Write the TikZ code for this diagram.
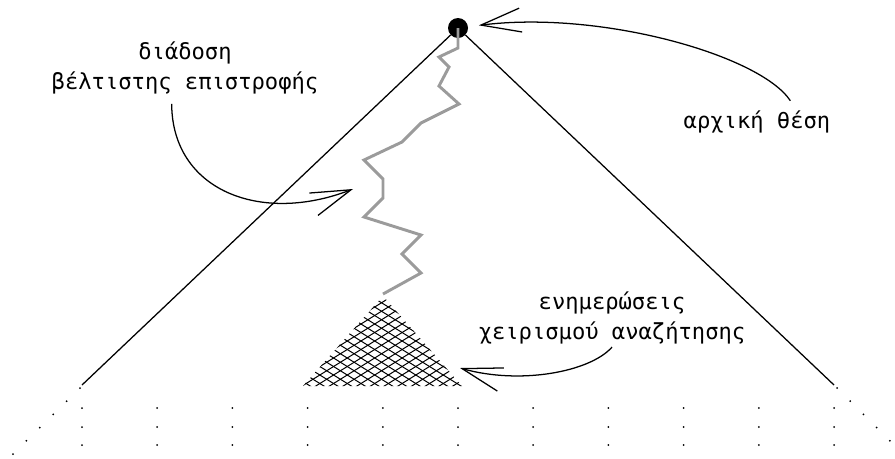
\documentclass[tikz,border=0pt]{standalone}
\usepackage{fontspec}
\newfontfamily\grfont{DejaVu Sans Mono}
\usetikzlibrary{arrows.meta,calc}
\begin{document}
\begin{tikzpicture}[x=0.75pt,y=-0.75pt,
  lbl/.style={font=\grfont\fontsize{16.6}{22.5}\selectfont, align=center, inner sep=0pt},
  treeedge/.style={line width=0.95pt},
  pointer/.style={line width=0.95pt, -{Straight Barb[length=30pt,width=18pt]}},
  zig/.style={line width=2.2pt, draw={rgb,255:red,155;green,155;blue,155}, line join=miter},
  hatch/.style={line width=0.75pt},
  dotmark/.style={fill=black}]
\useasboundingbox (0,0) rectangle (895,458);

% root and tree
\node[circle, fill=black, minimum size=15pt, inner sep=0pt] (root) at (458,28) {};
\coordinate (L) at (82,385);
\coordinate (R) at (834,385);
\draw[treeedge] (root) -- (L);
\draw[treeedge] (root) -- (R);

% dotted continuations
\foreach \i in {0,...,5} \fill[dotmark] (80-13.4*\i,388+13.2*\i) circle (0.75pt);
\foreach \i in {0,...,4} \fill[dotmark] (837+13.2*\i,388+13.2*\i) circle (0.75pt);
\foreach \k in {0,...,10} {
  \foreach \yy in {408,427,445} \fill[dotmark] (82+75.2*\k,\yy) circle (0.75pt);
}

% hatched triangle
\coordinate (apex) at (383,294);
\begin{scope}
  \clip (383,296) -- (303,386) -- (462,386) -- cycle;
  \foreach \i in {-22,...,16} \draw[hatch] (290,280+8.5*\i) -- (475,394.7+8.5*\i);
  \foreach \i in {-2,...,35} \draw[hatch] (290,283+8.5*\i) -- (475,168.3+8.5*\i);
\end{scope}

% gray zigzag
\draw[zig] (root.center) -- (458,48) -- (439,57) -- (449,67) -- (439,86) -- (459,104)
  -- (421,123) -- (402,142) -- (364,160) -- (383,179) -- (383,198) -- (364,217)
  -- (421,235) -- (402,254) -- (421,273) -- (apex);

% labels
\node[lbl] (txt2) at (185,68) {διάδοση\\βέλτιστης επιστροφής};
\node[lbl, anchor=base] (txt1) at (757,128) {αρχική θέση};
\node[lbl] (txt3) at (612,318) {ενημερώσεις\\χειρισμού αναζήτησης};

\coordinate (ret) at (353,189);
\coordinate (hit) at (460,368);

% pointers
\draw[pointer, shorten >=8pt] ([xshift=25pt,yshift=7pt]txt1.north) .. controls (760,55) and (600,10) .. (root);
\draw[pointer] ([xshift=-10pt,yshift=-7pt]txt2.south) .. controls (172,190) and (260,225) .. (ret);
\draw[pointer] ([yshift=-2pt]txt3.south) .. controls (590,372) and (520,385) .. (hit);
\end{tikzpicture}
\end{document}
